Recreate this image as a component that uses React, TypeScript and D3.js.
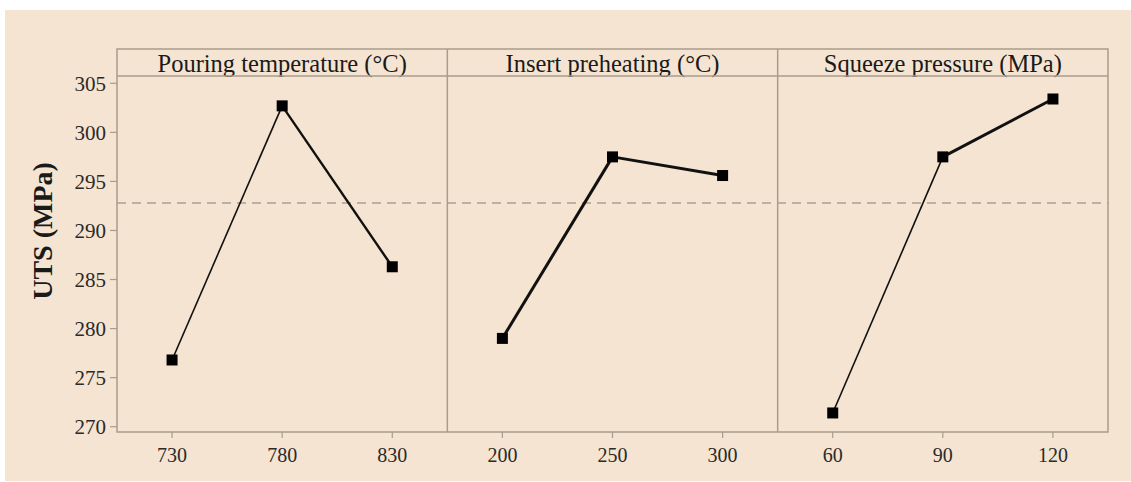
import React from "react";
import * as d3 from "d3";

const panelTitles = ["Pouring temperature (°C)", "Insert preheating (°C)", "Squeeze pressure (MPa)"];
const levelLabels = [
  ["730", "780", "830"],
  ["200", "250", "300"],
  ["60", "90", "120"],
];
const pouringUTS = [276.8, 302.7, 286.3];
const preheatUTS = [279.0, 297.5, 295.6];
const squeezeUTS = [271.4, 297.5, 303.4];
const seriesValues = [pouringUTS, preheatUTS, squeezeUTS];
const meanUTS = 292.8;
const yTicks = [270, 275, 280, 285, 290, 295, 300, 305];
const yTitle = "UTS (MPa)";

// segment stroke widths (style)
const segWidths = [
  [1.6, 2.4],
  [3, 3],
  [1.6, 3],
];

export default function App() {
  const W = 1131, H = 482;
  const left = 117, right = 1108, top = 49, stripH = 27, bottom = 432;
  const plotTop = top + stripH;
  const panelW = (right - left) / 3;
  const y = d3.scaleLinear().domain([270, 305]).range([426.7, 83.3]);
  const frame = "#a89c8c";
  const font = "'Liberation Serif', 'Times New Roman', serif";
  const line = d3.line<[number, number]>().x(d => d[0]).y(d => d[1]);

  return (
    <svg width={W} height={H} style={{ position: "absolute", left: 0, top: 0 }}>
      <rect x={0} y={0} width={W} height={H} fill="#ffffff" />
      <rect x={5} y={10} width={W - 5} height={H - 11} fill="#f5e4d1" />
      {/* y axis */}
      {yTicks.map(t => (
        <g key={t}>
          <line x1={left - 7} x2={left} y1={y(t)} y2={y(t)} stroke={frame} strokeWidth={1.2} />
          <text x={left - 11} y={y(t)} dy="0.35em" textAnchor="end" fontFamily={font} fontSize={21} fill="#2a2a2a">{t}</text>
        </g>
      ))}
      <text transform={`translate(52,231) rotate(-90)`} textAnchor="middle" fontFamily={font} fontSize={28} fontWeight="bold" fill="#1a1a1a">{yTitle}</text>
      {/* mean line */}
      <line x1={left} x2={right} y1={y(meanUTS)} y2={y(meanUTS)} stroke="#a89e94" strokeWidth={1.5} strokeDasharray="9,6" />
      {panelTitles.map((title, i) => {
        const x0 = left + i * panelW;
        const x = d3.scalePoint<string>().domain(levelLabels[i]).range([x0, x0 + panelW]).padding(0.5);
        const pts: [number, number][] = seriesValues[i].map((v, j) => [x(levelLabels[i][j])!, y(v)]);
        return (
          <g key={title}>
            <text x={x0 + panelW / 2} y={top + stripH / 2 + 1} dy="0.35em" textAnchor="middle" fontFamily={font} fontSize={24.5} fill="#1a1a1a">{title}</text>
            {levelLabels[i].map(l => (
              <g key={l}>
                <line x1={x(l)} x2={x(l)} y1={bottom} y2={bottom + 6} stroke={frame} strokeWidth={1.2} />
                <text x={x(l)} y={bottom + 23} dy="0.35em" textAnchor="middle" fontFamily={font} fontSize={20} fill="#2a2a2a">{l}</text>
              </g>
            ))}
            {pts.slice(1).map((p, j) => (
              <path key={j} d={line([pts[j], p])!} stroke="#111" strokeWidth={segWidths[i][j]} fill="none" />
            ))}
            {pts.map((p, j) => (
              <rect key={j} x={p[0] - 5.5} y={p[1] - 5.5} width={11} height={11} fill="#000" />
            ))}
          </g>
        );
      })}
      {/* frame */}
      <rect x={left} y={top} width={right - left} height={bottom - top} fill="none" stroke={frame} strokeWidth={1.5} />
      <line x1={left} x2={right} y1={plotTop} y2={plotTop} stroke={frame} strokeWidth={1.5} />
      {[1, 2].map(i => (
        <line key={i} x1={left + i * panelW} x2={left + i * panelW} y1={top} y2={bottom} stroke={frame} strokeWidth={1.5} />
      ))}
    </svg>
  );
}
